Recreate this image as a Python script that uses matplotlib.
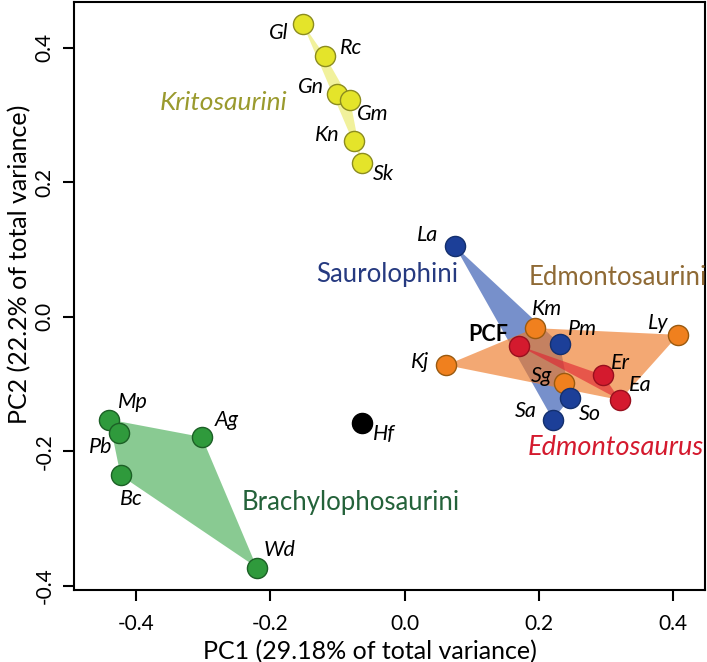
# PCA morphospace of hadrosaurids -----------------------------------------------------------------------/
import matplotlib
matplotlib.use("Agg")
import matplotlib.pyplot as plt
import numpy as np

# 1. data -----------------------------------------------------------------------------------------------/
krit_names = ["Gl", "Rc", "Gn", "Gm", "Kn", "Sk"]
krit_x = [-0.152, -0.118, -0.100, -0.081, -0.075, -0.063]
krit_y = [0.436, 0.387, 0.331, 0.322, 0.262, 0.228]

saur_names = ["La", "Pm", "So", "Sa"]
saur_x = [0.075, 0.231, 0.247, 0.221]
saur_y = [0.105, -0.040, -0.121, -0.153]

edmi_names = ["Km", "Ly", "Kj", "Sg"]
edmi_x = [0.194, 0.408, 0.062, 0.238]
edmi_y = [-0.017, -0.027, -0.072, -0.098]

edmo_names = ["PCF", "Er", "Ea"]
edmo_x = [0.170, 0.296, 0.321]
edmo_y = [-0.043, -0.087, -0.124]

brac_names = ["Mp", "Pb", "Bc", "Ag", "Wd"]
brac_x = [-0.440, -0.425, -0.423, -0.302, -0.220]
brac_y = [-0.153, -0.173, -0.236, -0.179, -0.373]

hf_name = "Hf"
hf_x = -0.064
hf_y = -0.158

x_ticks = [-0.4, -0.2, 0.0, 0.2, 0.4]
y_ticks = [-0.4, -0.2, 0.0, 0.2, 0.4]
x_label = "PC1 (29.18% of total variance)"
y_label = "PC2 (22.2% of total variance)"

# label offsets in pixels (dx right, dy down)
offsets = {
    "Gl": (-24, 9), "Rc": (26, -8), "Gn": (-26, -7), "Gm": (23, 14), "Kn": (-27, -6), "Sk": (21, 11),
    "La": (-27, -11), "Pm": (23, -15), "So": (20, 16), "Sa": (-27, -9),
    "Km": (12, -19), "Ly": (-20, -12), "Kj": (-26, -3), "Sg": (-23, -7),
    "PCF": (-30, -11), "Er": (17, -12), "Ea": (20, -15),
    "Mp": (24, -18), "Pb": (-19, 14), "Bc": (11, 24), "Ag": (25, -17), "Wd": (23, -18),
    "Hf": (22, 11),
}

FONT = ["Lato", "DejaVu Sans"]
plt.rcParams["font.family"] = FONT


# 2. helpers --------------------------------------------------------------------------------------------/
def hull(xs, ys):
    # monotone chain convex hull
    pts = sorted(zip(xs, ys))

    def cross(o, a, b):
        return (a[0] - o[0]) * (b[1] - o[1]) - (a[1] - o[1]) * (b[0] - o[0])

    lower, upper = [], []
    for p in pts:
        while len(lower) >= 2 and cross(lower[-2], lower[-1], p) <= 0:
            lower.pop()
        lower.append(p)
    for p in reversed(pts):
        while len(upper) >= 2 and cross(upper[-2], upper[-1], p) <= 0:
            upper.pop()
        upper.append(p)
    h = lower[:-1] + upper[:-1]
    return [p[0] for p in h], [p[1] for p in h]


def points(ax, xs, ys, names, face, edge):
    ax.scatter(xs, ys, s=210, color=face, edgecolor=edge, linewidth=1.0, zorder=5)
    for n, x, y in zip(names, xs, ys):
        dx, dy = offsets[n]
        bold = n == "PCF"
        ax.annotate(n, (x, y), xytext=(dx, -dy), textcoords="offset pixels",
                    ha="center", va="center", fontsize=15.5,
                    style="normal" if bold else "italic",
                    fontweight="bold" if bold else "normal", zorder=6)


# 3. plot -----------------------------------------------------------------------------------------------/
fig = plt.figure(figsize=(7.07, 6.62), dpi=100)
ax = fig.add_axes([0.1047, 0.1088, 0.8918, 0.8882])

# hulls
hx, hy = hull(krit_x, krit_y)
ax.fill(hx, hy, color="#e8e85a", alpha=0.6, lw=0, zorder=1)
hx, hy = hull(brac_x, brac_y)
ax.fill(hx, hy, color="#3aa84a", alpha=0.6, lw=0, zorder=1)
hx, hy = hull(saur_x, saur_y)
ax.fill(hx, hy, color="#2f55b0", alpha=0.65, lw=0, zorder=1)
hx, hy = hull(edmi_x + edmo_x, edmi_y + edmo_y)
ax.fill(hx, hy, color="#ee7a28", alpha=0.65, lw=0, zorder=2)
hx, hy = hull(edmo_x, edmo_y)
ax.fill(hx, hy, color="#e02030", alpha=0.6, lw=0, zorder=3)

# points
points(ax, krit_x, krit_y, krit_names, "#e4e42a", "#8c8c20")
points(ax, brac_x, brac_y, brac_names, "#2f9a3c", "#1c6026")
points(ax, edmi_x, edmi_y, edmi_names, "#f0801e", "#9a5a10")
points(ax, saur_x, saur_y, saur_names, "#1c3f98", "#14306e")
points(ax, edmo_x, edmo_y, edmo_names, "#d41a2e", "#98101e")
points(ax, [hf_x], [hf_y], [hf_name], "#000000", "#000000")

# group names
ax.text(-0.269, 0.319, "Kritosaurini", color="#9a9a2e", fontsize=19, style="italic", ha="center", va="center")
ax.text(-0.026, 0.062, "Saurolophini", color="#263a80", fontsize=18.5, ha="center", va="center")
ax.text(0.317, 0.058, "Edmontosaurini", color="#8f6a35", fontsize=18.5, ha="center", va="center")
ax.text(0.315, -0.194, "Edmontosaurus", color="#d41a2e", fontsize=19.5, style="italic", ha="center", va="center")
ax.text(-0.080, -0.277, "Brachylophosaurini", color="#24623a", fontsize=18.5, ha="center", va="center")

# axes
ax.set_xlim(-0.4924, 0.4469)
ax.set_ylim(-0.4064, 0.468)
ax.set_xticks(x_ticks)
ax.set_yticks(y_ticks)
ax.set_xticklabels(["%.1f" % t for t in x_ticks], fontsize=15)
ax.set_yticklabels(["%.1f" % t for t in y_ticks], fontsize=15, rotation=90, va="center")
ax.tick_params(length=8, width=1.5, pad=6)
ax.tick_params(axis="x", pad=9)
for s in ax.spines.values():
    s.set_linewidth(1.5)
ax.set_xlabel(x_label, fontsize=18)
ax.set_ylabel(y_label, fontsize=18)
ax.xaxis.set_label_coords(0.469, -0.085)
ax.yaxis.set_label_coords(-0.068, 0.554)

plt.savefig("out.png", dpi=100)
